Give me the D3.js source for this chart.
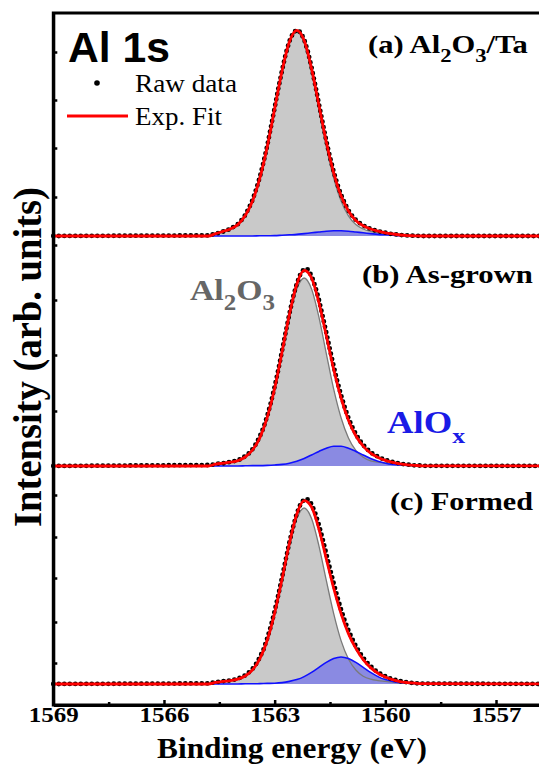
<!DOCTYPE html>
<html>
<head>
<meta charset="utf-8">
<script src="https://cdn.jsdelivr.net/npm/d3@7"></script>
<style>
  html, body { margin: 0; padding: 0; background: #fff; }
  svg { display: block; }
</style>
</head>
<body>
<svg id="chart" width="539" height="774"></svg>
<script>
// ---- data (binding energy in eV, intensity in arb. units) ----
const xMajor = [1569, 1566, 1563, 1560, 1557];
const xMinor = [1567.5, 1564.5, 1561.5, 1558.5];
const yTicks = [316, 292, 268, 243.5, 219.5, 192, 164.5, 136.5, 94.5, 73.5, 53, 31, 10.5];

// vertical offset of each spectrum: (a) Al2O3/Ta, (b) As-grown, (c) Formed
const offsets = [224, 109, 0];

// fitted components, sampled every 0.2 eV
const compE = [1564.8, 1564.6, 1564.4, 1564.2, 1564.0, 1563.8, 1563.6, 1563.4, 1563.2, 1563.0,
  1562.8, 1562.6, 1562.4, 1562.2, 1562.0, 1561.8, 1561.6, 1561.4, 1561.2, 1561.0,
  1560.8, 1560.6, 1560.4, 1560.2, 1560.0, 1559.8, 1559.6, 1559.4, 1559.2, 1559.0, 1555.0];

const al2o3A = [0, 1.2, 2.3, 3.5, 5.7, 10.1, 17.5, 29.0, 44.6, 63.4, 82.1, 96.5, 102, 96.5, 82.1,
  63.4, 44.6, 29.0, 17.5, 10.1, 5.7, 3.5, 2.3, 1.6, 1.0, 0.6, 0.3, 0.1, 0, 0, 0];
const aloxA  = [0, 0, 0, 0, 0, 0, 0, 0.1, 0.1, 0.2, 0.4, 0.6, 0.8, 1.2, 1.6,
  2.0, 2.4, 2.6, 2.6, 2.4, 2.0, 1.6, 1.2, 0.8, 0.6, 0.4, 0.2, 0.1, 0.1, 0, 0];

const al2o3B = [0, 0.9, 1.4, 1.9, 2.6, 4.4, 7.8, 14.0, 24.1, 38.4, 56.2, 74.4, 88.5, 94, 88.5,
  74.4, 56.2, 38.4, 24.1, 14.0, 7.8, 4.4, 2.6, 1.9, 1.4, 1.0, 0.6, 0.3, 0.1, 0, 0];
const aloxB  = [0, 0, 0, 0, 0, 0.1, 0.2, 0.2, 0.3, 0.5, 0.8, 1.4, 2.4, 3.8, 5.5,
  7.3, 8.9, 9.9, 9.9, 8.9, 7.3, 5.5, 3.8, 2.4, 1.4, 0.8, 0.5, 0.3, 0.2, 0.1, 0];

const al2o3C = [0, 0.8, 1.3, 1.7, 2.4, 3.9, 7.0, 12.5, 21.7, 35.2, 51.8, 69.1, 82.7, 88.0, 82.7,
  69.1, 51.8, 35.2, 21.7, 12.5, 7.0, 3.9, 2.4, 1.7, 1.3, 0.9, 0.5, 0.3, 0.1, 0, 0];
const aloxC  = [0, 0, 0, 0, 0, 0.1, 0.1, 0.2, 0.3, 0.4, 0.7, 1.3, 2.2, 3.7, 5.8,
  8.3, 10.8, 12.7, 13.5, 12.7, 10.8, 8.3, 5.8, 3.7, 2.2, 1.3, 0.7, 0.4, 0.3, 0.2, 0];

// raw data, 0.1 eV steps (flat ends at the baseline)
const rawE = [1569.0, 1564.8, 1564.7, 1564.6, 1564.5, 1564.4, 1564.3, 1564.2, 1564.1, 1564.0,
  1563.9, 1563.8, 1563.7, 1563.6, 1563.5, 1563.4, 1563.3, 1563.2, 1563.1, 1563.0,
  1562.9, 1562.8, 1562.7, 1562.6, 1562.5, 1562.4, 1562.3, 1562.2, 1562.1, 1562.0,
  1561.9, 1561.8, 1561.7, 1561.6, 1561.5, 1561.4, 1561.3, 1561.2, 1561.1, 1561.0,
  1560.9, 1560.8, 1560.7, 1560.6, 1560.5, 1560.4, 1560.3, 1560.2, 1560.1, 1560.0,
  1559.9, 1559.8, 1559.7, 1559.6, 1559.5, 1559.4, 1559.3, 1559.2, 1559.1, 1559.0, 1555.0];

const rawA = [0, 0.3, 0.8, 1.1, 1.7, 2.2, 3.0, 3.4, 4.8, 5.9,
  7.9, 10.4, 13.9, 18.0, 23.4, 29.6, 37.1, 45.2, 54.6, 64.1,
  73.9, 82.8, 91.1, 97.4, 101.6, 103.1, 101.9, 98.3, 92.2, 84.3,
  75.5, 66.0, 56.7, 47.6, 39.4, 32.2, 25.8, 20.6, 16.3, 12.8,
  10.1, 8.0, 6.5, 5.3, 4.2, 3.6, 2.9, 2.5, 2.0, 1.7,
  1.2, 1.0, 0.8, 0.5, 0.4, 0.3, 0.1, 0.2, 0.1, 0, 0];
const rawB = [0, 0.5, 0.6, 1.1, 1.3, 1.3, 1.8, 2.0, 2.4, 2.9,
  3.6, 4.9, 6.3, 8.4, 11.2, 14.9, 19.3, 25.1, 31.8, 39.7,
  48.2, 57.6, 67.0, 76.1, 84.5, 91.2, 96.0, 98.6, 98.3, 95.1,
  89.8, 83.1, 75.0, 66.7, 58.1, 49.9, 42.2, 35.4, 29.3, 24.0,
  19.6, 16.0, 12.9, 10.5, 8.6, 6.9, 5.6, 4.7, 3.8, 3.1,
  2.6, 2.0, 1.6, 1.3, 0.9, 0.7, 0.6, 0.3, 0.3, 0.1, 0];
const rawC = [0, 0.3, 0.7, 0.8, 1.2, 1.5, 1.4, 1.9, 2.2, 2.6,
  3.5, 4.3, 5.8, 7.6, 10.1, 13.4, 17.4, 22.9, 29.1, 36.5,
  44.6, 53.3, 62.2, 70.9, 78.6, 85.3, 89.9, 92.4, 92.3, 89.9,
  85.4, 79.5, 72.6, 65.1, 57.6, 50.4, 43.5, 37.2, 31.6, 26.8,
  22.6, 19.0, 15.8, 13.1, 10.8, 8.9, 7.2, 5.9, 4.8, 3.9,
  3.0, 2.5, 1.9, 1.4, 1.2, 0.8, 0.6, 0.5, 0.2, 0.2, 0];

const fitStart = 1569.0;

// ---- chart ----
const svg = d3.select('#chart');
const SERIF = '"Liberation Serif", "Times New Roman", serif';
const SANS  = '"Liberation Sans", Arial, sans-serif';

const x = d3.scaleLinear().domain([1569, 1555]).range([53.3, 569.8]);
const y = d3.scaleLinear().domain([-10.5, 335.5]).range([705, 13]);

svg.append('rect').attr('width', 539).attr('height', 774).attr('fill', '#fff');

const panels = [
  { off: offsets[0], al: al2o3A, ox: aloxA, raw: rawA },
  { off: offsets[1], al: al2o3B, ox: aloxB, raw: rawB },
  { off: offsets[2], al: al2o3C, ox: aloxC, raw: rawC },
];

panels.forEach(p => {
  const comp = compE.map((e, i) => ({ e, al: p.al[i], ox: p.ox[i] }));
  const fit  = [{ e: fitStart, v: 0 }].concat(comp.map(d => ({ e: d.e, v: d.al + d.ox })));
  const raw  = rawE.map((e, i) => ({ e, v: p.raw[i] }));
  const g = svg.append('g');

  const areaOf = key => d3.area()
    .x(d => x(d.e)).y0(y(p.off)).y1(d => y(p.off + d[key]))
    .curve(d3.curveMonotoneX);
  const lineOf = key => d3.line()
    .x(d => x(d.e)).y(d => y(p.off + d[key]))
    .curve(d3.curveMonotoneX);

  g.append('path').attr('d', areaOf('al')(comp)).attr('fill', '#c9c9c9');
  g.append('path').attr('d', areaOf('ox')(comp)).attr('fill', '#8a8ae2');
  g.append('path').attr('d', lineOf('al')(comp))
    .attr('fill', 'none').attr('stroke', '#7a7a7a').attr('stroke-width', 1.3);
  g.append('path').attr('d', lineOf('ox')(comp))
    .attr('fill', 'none').attr('stroke', '#1010ff').attr('stroke-width', 1.6);

  // raw data as dense dots
  g.append('path')
    .attr('d', d3.line().x(d => x(d.e)).y(d => y(p.off + d.v))(raw))
    .attr('fill', 'none').attr('stroke', '#000').attr('stroke-width', 4.8)
    .attr('stroke-linecap', 'round').attr('stroke-dasharray', '0 5.5');

  g.append('path').attr('d', lineOf('v')(fit))
    .attr('fill', 'none').attr('stroke', '#ff0000').attr('stroke-width', 2.8);
});

// frame
svg.append('rect')
  .attr('x', x(1569)).attr('y', y(335.5))
  .attr('width', x(1555) - x(1569)).attr('height', y(-10.5) - y(335.5))
  .attr('fill', 'none').attr('stroke', '#000').attr('stroke-width', 3);

// x axis
const xAxisG = svg.append('g').attr('transform', `translate(0,${y(-10.5)})`)
  .call(d3.axisBottom(x).tickValues(xMajor).tickFormat(d3.format('d'))
    .tickSize(-5).tickSizeOuter(0).tickPadding(2.4));
xAxisG.select('.domain').attr('stroke-width', 3);
xAxisG.selectAll('.tick line').attr('stroke-width', 2.5);
xAxisG.selectAll('.tick text')
  .attr('font-family', SERIF).attr('font-size', 21).attr('font-weight', 'bold').attr('fill', '#000')
  .attr('textLength', 50).attr('lengthAdjust', 'spacingAndGlyphs');

svg.append('g').attr('transform', `translate(0,${y(-10.5)})`)
  .call(d3.axisBottom(x).tickValues(xMinor).tickSize(-3).tickSizeOuter(0).tickFormat(''))
  .call(g => g.select('.domain').remove())
  .selectAll('.tick line').attr('stroke-width', 2.5);

// y axis (no labels)
const yAxisG = svg.append('g').attr('transform', `translate(${x(1569)},0)`)
  .call(d3.axisLeft(y).tickValues(yTicks).tickSize(-4).tickSizeOuter(0).tickFormat(''));
yAxisG.select('.domain').attr('stroke-width', 3);
yAxisG.selectAll('.tick line').attr('stroke-width', 2.5);

// ---- text helper: parts = [[text, isSub], ...], stretched to a target width ----
function label(px, py, width, parts, o = {}) {
  const size = o.size || 26;
  const shift = size * (o.shift || 0.34);
  const g = svg.append('g');
  const t = g.append('text')
    .attr('font-family', o.family || SERIF)
    .attr('font-size', size)
    .attr('font-weight', o.weight || 'bold')
    .attr('fill', o.fill || '#000')
    .attr('text-anchor', o.anchor || 'start');
  let sub = false;
  parts.forEach(([s, isSub]) => {
    const ts = t.append('tspan').text(s);
    if (isSub) ts.attr('font-size', size * (o.subSize || 0.74));
    if (isSub && !sub) ts.attr('dy', shift);
    if (!isSub && sub) ts.attr('dy', -shift);
    sub = isSub;
  });
  const natural = t.node().getComputedTextLength();
  const sx = width / natural;
  g.attr('transform', `translate(${px},${py}) rotate(${o.rotate || 0}) scale(${sx},1)`);
  return g;
}

label(68, 62, 102, [['Al 1s']], { family: SANS, size: 42 });

svg.append('circle').attr('cx', 97).attr('cy', 83).attr('r', 2.8).attr('fill', '#000');
label(135, 92, 102, [['Raw data']], { weight: 'normal', size: 26 });
svg.append('line').attr('x1', 67).attr('x2', 128).attr('y1', 116).attr('y2', 116)
  .attr('stroke', '#ff0000').attr('stroke-width', 3);
label(135, 125, 87, [['Exp. Fit']], { weight: 'normal', size: 26 });

label(368, 53, 160, [['(a) Al'], ['2', true], ['O'], ['3', true], ['/Ta']]);
label(362, 283, 171, [['(b) As-grown']]);
label(390, 510, 143, [['(c) Formed']]);

label(190, 300, 85, [['Al'], ['2', true], ['O'], ['3', true]], { size: 30, fill: '#666666' });
label(387, 433, 78, [['AlO'], ['x', true]], { size: 31, fill: '#1a1ae6', shift: 0.32, subSize: 0.7 });

label(292, 758, 270, [['Binding energy (eV)']], { size: 30, anchor: 'middle' });
label(41, 357, 340, [['Intensity (arb. units)']], { size: 39, anchor: 'middle', rotate: -90 });
</script>
</body>
</html>
